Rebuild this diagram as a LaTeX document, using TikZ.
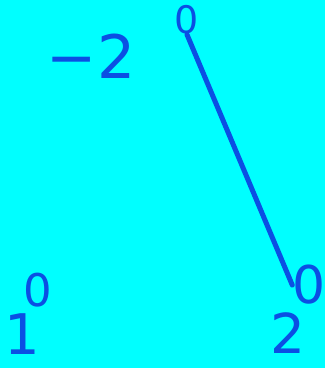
\documentclass[tikz,border=0pt]{standalone}
\usepackage{fontspec}
\setmainfont{DejaVu Sans}
\usetikzlibrary{positioning}
\definecolor{sketchcyan}{HTML}{00FFFF}
\definecolor{penblue}{HTML}{0B4FE3}

\begin{document}
\begin{tikzpicture}[
  x=1pt, y=-1pt,
  digit/.style={text=penblue, inner sep=0pt, anchor=center},
  stroke/.style={draw=penblue, line width=5pt, line cap=round}
]

% canvas
\fill[sketchcyan] (0,0) rectangle (325,368);
\useasboundingbox (0,0) rectangle (325,368);

\node[digit, font=\fontsize{60}{60}\selectfont] (minustwo) at (91,56) {−2};
\node[digit, font=\fontsize{38}{38}\selectfont] (topzero) at (187,20) {0};
\node[digit, font=\fontsize{52}{52}\selectfont] (rightzero) at (309,285) {0};
\node[digit, font=\fontsize{55}{55}\selectfont] (righttwo) at (288,333) {2};
\node[digit, font=\fontsize{45}{45}\selectfont] (leftzero) at (38,290) {0};
\node[digit, font=\fontsize{56}{56}\selectfont] (leftone) at (22,334) {1};

\draw[stroke] (topzero.south) -- (rightzero.west);

\end{tikzpicture}
\end{document}
